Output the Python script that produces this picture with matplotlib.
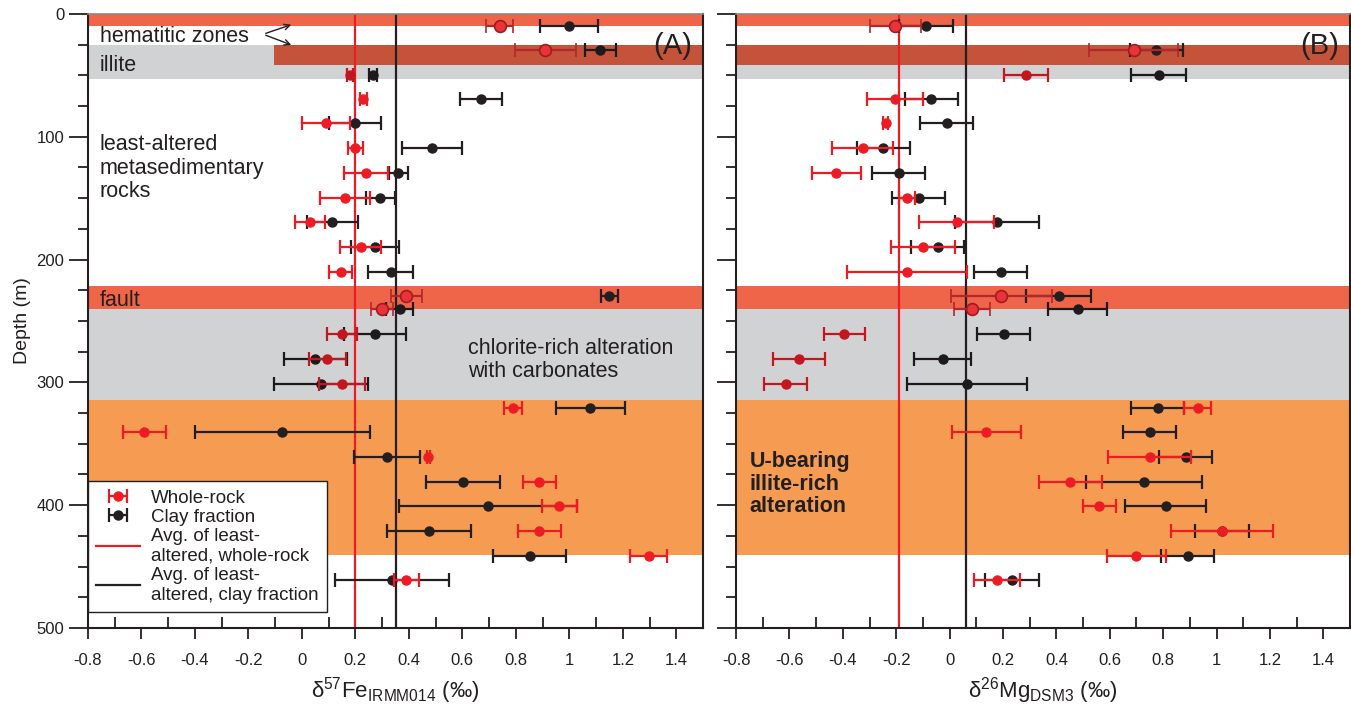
import numpy as np
import matplotlib.pyplot as plt
from matplotlib.colors import to_rgb
from matplotlib.ticker import MultipleLocator, FuncFormatter

plt.rcParams['font.family'] = ['Liberation Sans', 'DejaVu Sans']
plt.rcParams['mathtext.fontset'] = 'custom'
plt.rcParams['mathtext.rm'] = 'Liberation Sans'
plt.rcParams['mathtext.it'] = 'Liberation Sans:italic'
plt.rcParams['text.color'] = '#231F20'
plt.rcParams['axes.labelcolor'] = '#231F20'
plt.rcParams['xtick.color'] = '#231F20'
plt.rcParams['ytick.color'] = '#231F20'

# sample depths (m)
depth = [9.5, 29.5, 50, 69, 89, 109.5, 129.5, 150, 169.5, 190, 210, 230,
         240.5, 260.5, 281, 301, 320.5, 340.5, 361, 381, 401, 421, 441.5, 461]

# d57Fe, whole rock and clay fraction
fe_whole = [0.74, 0.91, 0.18, 0.23, 0.09, 0.20, 0.24, 0.16, 0.03, 0.22, 0.145, 0.39,
            0.30, 0.15, 0.095, 0.15, 0.79, -0.59, 0.473, 0.887, 0.963, 0.888, 1.296, 0.39]
fe_whole_err = [0.05, 0.115, 0.012, 0.012, 0.09, 0.028, 0.082, 0.094, 0.055, 0.076, 0.042, 0.058,
                0.041, 0.055, 0.069, 0.087, 0.034, 0.08, 0.006, 0.062, 0.065, 0.08, 0.07, 0.047]
fe_clay = [1.0, 1.115, 0.265, 0.67, 0.20, 0.486, 0.36, 0.293, 0.113, 0.272, 0.332, 1.15,
           0.366, 0.272, 0.05, 0.071, 1.079, -0.074, 0.318, 0.603, 0.696, 0.476, 0.852, 0.336]
fe_clay_err = [0.108, 0.058, 0.015, 0.08, 0.097, 0.113, 0.036, 0.055, 0.095, 0.09, 0.084, 0.032,
               0.05, 0.116, 0.118, 0.175, 0.13, 0.327, 0.124, 0.139, 0.334, 0.157, 0.137, 0.214]

# d26Mg, whole rock and clay fraction
mg_whole = [-0.203, 0.689, 0.286, -0.205, -0.239, -0.326, -0.424, -0.161, 0.026, -0.098, -0.159, 0.194,
            0.084, -0.394, -0.564, -0.614, 0.929, 0.138, 0.749, 0.451, 0.561, 1.02, 0.70, 0.177]
mg_whole_err = [0.097, 0.165, 0.083, 0.105, 0.01, 0.115, 0.092, 0.03, 0.14, 0.12, 0.226, 0.188,
                0.066, 0.078, 0.099, 0.08, 0.051, 0.128, 0.156, 0.118, 0.062, 0.19, 0.11, 0.087]
mg_clay = [-0.089, 0.774, 0.783, -0.068, -0.011, -0.248, -0.191, -0.116, 0.176, -0.044, 0.191, 0.408,
           0.48, 0.203, -0.026, 0.065, 0.779, 0.749, 0.884, 0.728, 0.809, 1.02, 0.892, 0.233]
mg_clay_err = [0.1, 0.1, 0.102, 0.1, 0.1, 0.099, 0.1, 0.1, 0.157, 0.099, 0.1, 0.123,
               0.11, 0.1, 0.108, 0.224, 0.1, 0.1, 0.099, 0.217, 0.152, 0.1, 0.1, 0.1]

# averages of least-altered rocks (whole-rock, clay)
fe_avg = [0.20, 0.35]
mg_avg = [-0.19, 0.06]

# samples from hematitic / fault zones (outlined markers)
outlined = [0, 1, 11, 12]

# zones: (top, bottom, colour, x start in data units or None)
c_hem = '#EF6549'
c_dark = '#C4533A'
c_grey = '#D1D2D4'
c_orange = '#F69C52'
zones_fe = [(0, 10, c_hem, None), (25.5, 53, c_grey, None), (25.5, 41.5, c_dark, -0.106),
            (221.5, 240.5, c_hem, None), (240.5, 314, c_grey, None), (314, 440.5, c_orange, None)]
zones_mg = [(0, 10, c_hem, None), (25.5, 41.5, c_dark, None), (41.5, 53, c_grey, None),
            (221.5, 240.5, c_hem, None), (240.5, 314, c_grey, None), (314, 440.5, c_orange, None)]

RED = '#ED1C24'
DARKRED = '#9E1C20'
BLACK = '#231F20'
XMIN, XMAX = -0.8, 1.5


def tint(col, zones, d):
    # the zone fills in the original sit on top in multiply mode; mimic it for grey zones
    base = np.array(to_rgb(col))
    for top, bot, zc, x0 in zones:
        if top <= d < bot and zc == c_grey:
            return tuple(base * np.array(to_rgb(zc)))
    return tuple(base)


def draw_panel(ax, zones, whole, whole_err, clay, clay_err, avg):
    for top, bot, col, x0 in zones:
        xmin = 0 if x0 is None else (x0 - XMIN) / (XMAX - XMIN)
        ax.axhspan(top, bot, xmin=xmin, xmax=1, color=col, lw=0, zorder=0)
    h_avg_r = ax.axvline(avg[0], color=RED, lw=1.6, zorder=1)
    h_avg_k = ax.axvline(avg[1], color=BLACK, lw=1.6, zorder=1)
    h_clay = h_whole = None
    for i, d in enumerate(depth):
        kc = tint(BLACK, zones, d)
        h = ax.errorbar(clay[i], d, xerr=clay_err[i], fmt='o', color=kc, ms=6.5,
                        elinewidth=1.6, capsize=5, capthick=1.6, zorder=3)
        if h_clay is None:
            h_clay = h
    for i, d in enumerate(depth):
        rc = tint(RED, zones, d)
        if i in outlined:
            ax.errorbar(whole[i], d, xerr=whole_err[i], fmt='o', color='#B3262B',
                        mfc='#EA3338', mec=DARKRED, mew=1.2, ms=8.5,
                        elinewidth=1.6, capsize=5, capthick=1.6, zorder=4)
        else:
            h = ax.errorbar(whole[i], d, xerr=whole_err[i], fmt='o', color=rc, ms=6.5,
                            elinewidth=1.6, capsize=5, capthick=1.6, zorder=4)
            if h_whole is None and rc == to_rgb(RED):
                h_whole = h

    ax.set_xlim(XMIN, XMAX)
    ax.set_ylim(500, 0)
    ax.xaxis.set_major_locator(MultipleLocator(0.2))
    ax.xaxis.set_minor_locator(MultipleLocator(0.1))
    ax.xaxis.set_major_formatter(FuncFormatter(lambda v, p: '%g' % round(v, 1) if v < 1.45 else ''))
    ax.yaxis.set_major_locator(MultipleLocator(100))
    ax.yaxis.set_minor_locator(MultipleLocator(25))
    ax.tick_params(axis='x', which='major', direction='out', length=8, width=1.3, labelsize=12, pad=10)
    ax.tick_params(axis='x', which='minor', direction='in', length=8, width=1.3)
    ax.tick_params(axis='y', which='major', direction='out', length=14, width=1.3, labelsize=12, pad=3)
    ax.tick_params(axis='y', which='minor', direction='out', length=7, width=1.3)
    for s in ['left', 'bottom', 'right']:
        ax.spines[s].set_linewidth(1.5)
        ax.spines[s].set_color(BLACK)
    ax.spines['top'].set_color('#8A8A8A')
    ax.spines['top'].set_linewidth(1.2)
    return h_whole, h_clay, h_avg_r, h_avg_k


fig = plt.figure(figsize=(13.51, 7.06), dpi=100)
ax1 = fig.add_axes([0.0651, 0.1105, 0.4553, 0.8697])
ax2 = fig.add_axes([0.5448, 0.1105, 0.4545, 0.8697])

h_whole, h_clay, h_avg_r, h_avg_k = draw_panel(ax1, zones_fe, fe_whole, fe_whole_err,
                                               fe_clay, fe_clay_err, fe_avg)
draw_panel(ax2, zones_mg, mg_whole, mg_whole_err, mg_clay, mg_clay_err, mg_avg)
ax2.set_yticklabels([])

ax1.set_ylabel('Depth (m)', fontsize=14, labelpad=4)
ax1.set_xlabel('δ$^{57}$Fe$_{\\mathrm{IRMM014}}$ (‰)', fontsize=16, labelpad=5)
ax2.set_xlabel('δ$^{26}$Mg$_{\\mathrm{DSM3}}$ (‰)', fontsize=16, labelpad=5)

# zone labels
fs = 15.5
ax1.text(-0.756, 18, 'hematitic zones', fontsize=fs, va='center', zorder=5)
ax1.annotate('', xy=(-0.03, 8), xytext=(-0.145, 16.5),
             arrowprops=dict(arrowstyle='->', lw=1, color=BLACK), zorder=5)
ax1.annotate('', xy=(-0.03, 26), xytext=(-0.145, 16.5),
             arrowprops=dict(arrowstyle='->', lw=1, color=BLACK), zorder=5)
ax1.text(-0.756, 42, 'illite', fontsize=fs, va='center', zorder=5)
ax1.text(-0.756, 125.5, 'least-altered\nmetasedimentary\nrocks', fontsize=fs,
         va='center', linespacing=1.15, zorder=5)
ax1.text(-0.756, 233, 'fault', fontsize=fs, va='center', zorder=5)
ax1.text(0.62, 282, 'chlorite-rich alteration\nwith carbonates', fontsize=fs,
         va='center', linespacing=1.15, zorder=5)
ax2.text(-0.75, 383, 'U-bearing\nillite-rich\nalteration', fontsize=15.5, fontweight='bold',
         va='center', linespacing=1.1, zorder=5)
ax1.text(1.385, 26, '(A)', fontsize=21, ha='center', va='center', zorder=5)
ax2.text(1.385, 26, '(B)', fontsize=21, ha='center', va='center', zorder=5)

leg = ax1.legend(handles=[h_whole, h_clay, h_avg_r, h_avg_k],
                 labels=['Whole-rock', 'Clay fraction', 'Avg. of least-\naltered, whole-rock',
                         'Avg. of least-\naltered, clay fraction'],
                 loc='lower left', bbox_to_anchor=(0.0, 0.026),
                 fontsize=13.5, frameon=True, fancybox=False, edgecolor=BLACK,
                 framealpha=1, handlelength=2.3, handletextpad=0.6, borderpad=0.45,
                 labelspacing=0.12, borderaxespad=0.0)
leg.get_frame().set_linewidth(1.0)
leg.set_zorder(6)

fig.savefig('out.png', dpi=100)
